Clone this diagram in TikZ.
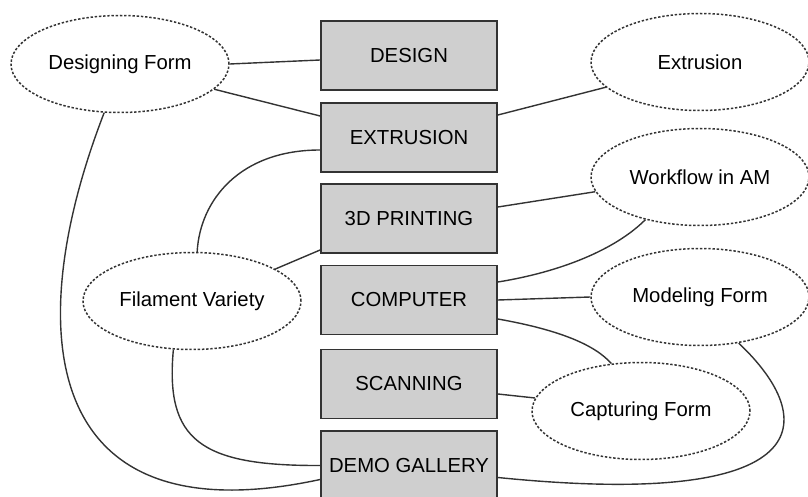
\documentclass[tikz,border=0pt]{standalone}
\usepackage{fontspec}
\setmainfont{Liberation Sans}
\usetikzlibrary{shapes.geometric}
\definecolor{boxfill}{HTML}{CFCFCF}
\definecolor{edge}{HTML}{333333}
\begin{document}
\begin{tikzpicture}[x=1pt,y=-1pt,
  every node/.style={font=\fontsize{20.3}{24}\selectfont, text=black},
  stagebox/.style={draw=edge, line width=1.8pt, fill=boxfill, minimum width=176pt, minimum height=69pt, inner sep=0pt},
  topic/.style={ellipse, draw=edge, line width=1.5pt, dash pattern=on 2.4pt off 1.8pt, minimum width=218pt, minimum height=97pt, inner sep=0pt},
  link/.style={draw=edge, line width=1.4pt}]
\useasboundingbox (0,0) rectangle (808,497);
% boxes
\node[stagebox] (design) at (409,55.5) {DESIGN};
\node[stagebox] (ext) at (409,137.5) {EXTRUSION};
\node[stagebox] (print) at (409,218.5) {3D PRINTING};
\node[stagebox] (comp) at (409,300) {COMPUTER};
\node[stagebox] (scan) at (409,384) {SCANNING};
\node[stagebox] (demo) at (409,465.5) {DEMO GALLERY};
% ellipses
\node[topic] (df) at (120,64) {Designing Form};
\node[topic] (ex) at (700,62) {Extrusion};
\node[topic] (wf) at (700,177) {Workflow in AM};
\node[topic] (fv) at (192,301) {Filament Variety};
\node[topic] (mf) at (700,297) {Modeling Form};
\node[topic] (cf) at (641,411) {Capturing Form};
% connectors
\draw[link] (df.east) -- ([yshift=-4.5pt]design.west);
\draw[link] (df.-15) -- ([yshift=21.5pt]ext.west);
\draw[link] (df.-108) .. controls (20,330) and (40,540) .. ([yshift=-14pt]demo.west);
\draw[link] ([yshift=-12.5pt]ext.west) .. controls (240,150) and (200,200) .. (fv.84);
\draw[link] ([yshift=-31.5pt]print.west) -- (fv.21);
\draw[link] (fv.-111) .. controls (165,440) and (200,466) .. (demo.west);
\draw[link] ([yshift=22.5pt]ext.east) -- (ex.-165);
\draw[link] ([yshift=11.5pt]print.east) -- (wf.188);
\draw[link] (wf.218) .. controls (615,250) and (560,272) .. ([yshift=18pt]comp.east);
\draw[link] (comp.east) -- (mf.west);
\draw[link] ([yshift=-19pt]comp.east) .. controls (560,330) and (595,345) .. (cf.122);
\draw[link] ([yshift=-10pt]scan.east) -- (cf.173);
\draw[link] (mf.-50) .. controls (820,420) and (820,510) .. ([yshift=-12pt]demo.east);
\end{tikzpicture}
\end{document}
